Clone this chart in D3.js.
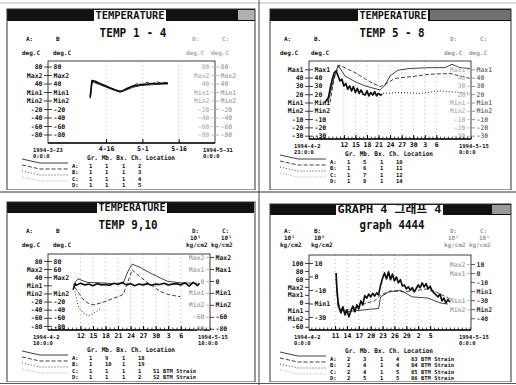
<!DOCTYPE html>
<html>
<head>
<meta charset="utf-8">
<script src="https://cdn.jsdelivr.net/npm/d3@7"></script>
<style>
  body { margin: 0; background: #fff; }
  text { font-family: "DejaVu Sans Mono", "Noto Sans CJK KR", monospace; font-weight: bold; }
</style>
</head>
<body>
<svg id="chart" width="516" height="385"></svg>
<script>
// ---- values ----
const barTitles = ["TEMPERATURE", "TEMPERATURE", "TEMPERATURE", "GRAPH 4 그래프 4"];
const subTitles = ["TEMP 1 - 4", "TEMP 5 - 8", "TEMP 9,10", "graph 4444"];
const legendHeader = "Gr. Mb. Bx. Ch. Location";

// panel 1 : TEMP 1 - 4
const tlRange = ["03-23 00", "05-31 00"];
const tlTicks = ["04-16 00", "05-01 00", "05-16 00"];
const tlTickLabels = ["4-16", "5-1", "5-16"];
const tlEnds = ["1994-3-23", "0:0:0", "1994-5-31", "0:0:0"];
const tlYRange = [-100, 93];
const tlYTicks = [80, 60, 40, 20, 0, -20, -40, -60, -80];
const tlYLabels = ["80", "Max2", "40", "Min1", "Min2", "-20", "-40", "-60", "-80"];
const tlHeads = ["A:", "B", "", "", "deg.C", "deg.C", "D:", "C:", "", "", "deg.C", "deg.C"];
const tl1 = [["04-09 10", 7], ["04-09 20", 30], ["04-10 04", 47], ["04-11 12", 45], ["04-13 12", 40], ["04-15 12", 35],
  ["04-17 14", 30], ["04-19 16", 25], ["04-21 18", 21], ["04-23 00", 23], ["04-24 14", 28], ["04-27 02", 34],
  ["04-30 00", 37], ["05-02 00", 38], ["05-04 02", 39], ["05-06 00", 40], ["05-08 07", 40], ["05-10 00", 41], ["05-11 14", 41]];
const tl2 = [["04-09 12", 5], ["04-10 06", 44], ["04-13 12", 37], ["04-17 14", 28], ["04-21 18", 20], ["04-24 14", 25],
  ["04-27 02", 31], ["04-30 00", 35], ["05-04 02", 37], ["05-08 07", 38], ["05-11 14", 39]];
const tl3 = [["04-09 12", 10], ["04-10 06", 45], ["04-13 12", 38], ["04-17 14", 29], ["04-21 18", 22], ["04-24 14", 27],
  ["04-27 02", 35], ["04-29 00", 40], ["05-01 00", 38], ["05-03 00", 43], ["05-05 00", 40], ["05-07 00", 44],
  ["05-09 00", 41], ["05-11 14", 43]];
const tlLegend = [["A:", "1", "1", "1", "2", ""], ["B:", "1", "1", "1", "3", ""], ["C:", "1", "1", "1", "4", ""], ["D:", "1", "1", "1", "5", ""]];

// panel 2 : TEMP 5 - 8
const trRange = ["04-02 23", "05-15 00"];
const trTicks = ["04-12 00", "04-15 00", "04-18 00", "04-21 00", "04-24 00", "04-27 00", "04-30 00", "05-03 00", "05-06 00"];
const trTickLabels = ["12", "15", "18", "21", "24", "27", "30", "3", "6"];
const trEnds = ["1994-4-2", "23:0:0", "1994-5-15", "0:0:0"];
const trYRange = [-34, 60];
const trYTicks = [50, 40, 30, 20, 10, 0, -10, -20, -30];
const trYLabels = ["Max1", "40", "30", "20", "Min1", "Min2", "-10", "-20", "-30"];
const trHeads = ["A:", "B.", "", "", "deg.C", "deg.C", "D:", "C:", "", "", "deg.C", "deg.C"];
const tr1 = [["04-07 03", 10], ["04-08 00", 16], ["04-08 12", 28], ["04-09 00", 38], ["04-09 12", 46], ["04-10 00", 48],
  ["04-10 12", 42], ["04-11 00", 36], ["04-11 12", 38], ["04-12 00", 30], ["04-12 12", 33], ["04-13 00", 26],
  ["04-13 12", 30], ["04-14 00", 24], ["04-14 12", 29], ["04-15 00", 22], ["04-15 12", 27], ["04-16 00", 21],
  ["04-16 12", 25], ["04-17 00", 20], ["04-17 12", 19], ["04-18 00", 24], ["04-18 12", 18], ["04-19 00", 22],
  ["04-19 12", 19], ["04-20 00", 23], ["04-20 12", 18], ["04-21 00", 21], ["04-21 12", 19], ["04-22 00", 20]];
const tr2 = [["04-07 22", 10], ["04-09 04", 35], ["04-10 12", 55], ["04-12 07", 42], ["04-14 22", 35], ["04-17 12", 30],
  ["04-21 10", 25], ["04-22 17", 31], ["04-24 00", 42], ["04-26 02", 49], ["04-29 04", 51], ["05-04 09", 52],
  ["05-08 06", 52], ["05-10 02", 56], ["05-12 03", 52], ["05-14 18", 51]];
const tr3 = [["04-08 10", 10], ["04-09 12", 40], ["04-10 20", 55], ["04-14 22", 46], ["04-18 19", 35], ["04-21 10", 29],
  ["04-22 17", 32], ["04-25 06", 39], ["04-29 04", 41], ["05-04 09", 44], ["05-09 13", 45], ["05-12 03", 42], ["05-14 18", 39]];
const tr4 = [["04-22 04", 21], ["04-26 14", 22], ["05-01 18", 21], ["05-06 23", 24], ["05-12 03", 22], ["05-14 18", 21]];
const trLegend = [["A:", "1", "5", "1", "10", ""], ["B:", "1", "6", "1", "11", ""], ["C:", "1", "7", "1", "12", ""], ["D:", "1", "8", "1", "14", ""]];

// panel 3 : TEMP 9,10
const blRange = ["04-04 06", "05-13 00"];
const blTicks = ["04-12 00", "04-15 00", "04-18 00", "04-21 00", "04-24 00", "04-27 00", "04-30 00", "05-03 00", "05-06 00"];
const blTickLabels = ["12", "15", "18", "21", "24", "27", "30", "3", "6"];
const blEnds = ["1994-4-2", "10:0:0", "1994-5-15", "10:0:0"];
const blYRange = [-90, 97];
const blYTicks = [80, 60, 40, 20, 0, -20, -40, -60, -80];
const blYLabelsA = ["80", "Max2", "40", "Min1", "Min2", "-20", "-40", "-60", "-80"];
const blYLabelsB = ["80", "60", "Max2", "", "Min2", "-20", "-40", "-60", "-80"];
const blRRange = [-82, 45];
const blRTicks = [40, 20, 0, -20, -40, -60, -80];
const blRLabels = ["Max2", "Max1", "0", "Min1", "Min2", "-60", "-80"];
const blHeads = ["A:", "B", "", "", "deg.C", "deg.C", "D:", "C:", "10¹", "10¹", "kg/cm2", "kg/cm2"];
const bl1 = [["04-10 06", 9], ["04-10 18", 24], ["04-11 00", 20], ["04-12 00", 25], ["04-13 00", 21], ["04-14 00", 23],
  ["04-15 00", 19], ["04-16 00", 24], ["04-17 00", 21], ["04-18 00", 22], ["04-19 00", 20], ["04-20 00", 25],
  ["04-21 00", 22], ["04-22 00", 27], ["04-23 00", 21], ["04-24 00", 24], ["04-25 00", 19], ["04-26 00", 23],
  ["04-27 00", 21], ["04-28 00", 24], ["04-29 00", 20], ["04-30 00", 23], ["05-01 00", 22], ["05-02 00", 25],
  ["05-03 00", 21], ["05-04 00", 23], ["05-05 00", 24], ["05-06 00", 21], ["05-07 00", 26], ["05-08 00", 18],
  ["05-09 00", 27], ["05-10 00", 19], ["05-10 12", 25]];
const bl2 = [["04-10 06", 20], ["04-11 10", 36], ["04-12 15", 31], ["04-13 20", 27], ["04-16 17", 26], ["04-19 20", 24],
  ["04-22 06", 26], ["04-23 10", 55], ["04-24 09", 72], ["04-26 08", 64], ["04-28 17", 50], ["05-01 03", 38],
  ["05-02 19", 30], ["05-05 22", 26], ["05-09 23", 25]];
const bl3 = [["04-10 17", 15], ["04-12 15", -15], ["04-13 20", -24], ["04-15 01", -28], ["04-16 17", -24], ["04-18 10", -18],
  ["04-19 20", -12], ["04-21 12", -6], ["04-22 06", -2], ["04-23 10", 30], ["04-24 09", 58], ["04-26 08", 40],
  ["04-28 17", 22], ["05-01 03", 5], ["05-02 19", -2], ["05-04 06", -5], ["05-05 22", -8]];
const bl4 = [["04-10 17", 5], ["04-11 10", -30], ["04-12 15", -48], ["04-13 20", -55], ["04-15 01", -50], ["04-16 17", -38]];
const blLegend = [["A:", "1", "9", "1", "18", ""], ["B:", "1", "10", "1", "19", ""], ["C:", "1", "1", "1", "1", "S1 BTM Strain"], ["D:", "1", "1", "1", "2", "S2 BTM Strain"]];

// panel 4 : graph 4444
const brRange = ["04-04 10", "05-15 08"];
const brTicks = ["04-11 00", "04-14 00", "04-17 00", "04-20 00", "04-23 00", "04-26 00", "04-29 00", "05-02 00", "05-05 00"];
const brTickLabels = ["11", "14", "17", "20", "23", "26", "29", "2", "5"];
const brEnds = ["1994-4-2", "0:0:0", "1994-5-15", "0:0:0"];
const brYRange = [-68, 120];
const brYTicks = [100, 80, 60, 40, 20, 0, -20, -40, -60];
const brYLabels = ["100", "80", "60", "Max2", "Max1", "0", "Min1", "Min2", "-60"];
const brBRange = [-39.6, 15.9];
const brBTicks = [10, 0, -10, -20, -30];
const brBLabels = ["10", "0", "-10", "Min1", "-30"];
const brRRange = [-63, 20];
const brRTicks = [10, 0, -10, -20, -30, -40, -50];
const brRLabels = ["10", "0", "-10", "Min1", "-30", "Min2", "-40"];
const brDTicks = [10, 0, -30, -40];
const brDLabels = ["Max2", "Max1", "Min1", "Min2"];
const brHeads = ["A:", "B:", "10¹", "10¹", "kg/cm2", "kg/cm2", "D:", "C:", "10¹", "10¹", "kg/cm2", "kg/cm2"];
const br1 = [["04-11 06", 75], ["04-11 12", 30], ["04-11 18", 5], ["04-12 00", -12], ["04-12 12", -25], ["04-13 00", -10],
  ["04-13 12", -30], ["04-14 00", -18], ["04-14 12", -35], ["04-15 00", -20], ["04-15 12", -8], ["04-16 00", -22],
  ["04-16 12", -5], ["04-17 00", -15], ["04-17 12", 5], ["04-18 00", -5], ["04-18 12", 18], ["04-19 00", 12],
  ["04-19 12", 22], ["04-20 00", 15], ["04-20 12", 24], ["04-21 00", 17], ["04-21 12", 25], ["04-22 00", 20],
  ["04-22 12", 45], ["04-23 00", 62], ["04-23 12", 75], ["04-24 00", 60], ["04-24 12", 78], ["04-25 00", 58],
  ["04-25 12", 72], ["04-26 00", 55], ["04-26 12", 65], ["04-27 00", 50], ["04-27 12", 58], ["04-28 00", 42],
  ["04-28 12", 45], ["04-29 00", 35], ["04-29 12", 40], ["04-30 00", 32], ["04-30 12", 38], ["05-01 00", 28],
  ["05-01 12", 36], ["05-02 00", 45], ["05-02 12", 38], ["05-03 00", 50], ["05-03 12", 40], ["05-04 00", 48],
  ["05-04 12", 35], ["05-05 00", 42], ["05-05 12", 30], ["05-06 00", 25], ["05-06 12", 20], ["05-07 00", 15],
  ["05-07 12", 22], ["05-08 00", 5], ["05-08 12", 12], ["05-09 00", 0], ["05-09 12", 8], ["05-10 00", 2]];
const br2 = [["04-11 06", 60], ["04-11 18", -10], ["04-12 12", -18], ["04-14 00", -22], ["04-16 00", -20], ["04-18 00", -18],
  ["04-20 00", -16], ["04-22 00", -14], ["04-22 12", 15], ["04-24 12", 27], ["04-27 12", 32], ["04-30 12", 15],
  ["05-04 12", 12], ["05-07 12", 0], ["05-09 12", -3]];
const br3 = [["04-11 12", 0], ["04-13 00", -20], ["04-15 00", -15], ["04-17 00", -8], ["04-19 00", 0], ["04-21 00", 5],
  ["04-22 12", 20], ["04-25 00", 30], ["04-28 00", 28], ["05-01 00", 30], ["05-04 00", 35], ["05-06 00", 30],
  ["05-08 00", 20], ["05-10 00", 10]];
const brLegend = [["A:", "2", "3", "1", "4", "83 BTM Strain"], ["B:", "2", "4", "1", "4", "84 BTM Strain"],
  ["C:", "2", "4", "1", "5", "85 BTM Strain"], ["D:", "2", "5", "1", "5", "86 BTM Strain"]];

// ---- drawing ----
const parseT = d3.timeParse("%Y-%m-%d %H");
const T = s => parseT("1994-" + s);
const FONT = '"DejaVu Sans Mono", "Noto Sans CJK KR", monospace';
const INK = "#111";

const lineStyles = [
  { w: 1.7, dash: null },
  { w: 0.8, dash: null },
  { w: 0.8, dash: "4,2" },
  { w: 0.9, dash: "1,2" }
];

const panels = [
  { ox: 0, oy: 0, border: [7, 9, 255, 190], bar: [7, 9, 255, 21], box: [94, 166], shade: [238, 255, "#b0b0b0"],
    title: barTitles[0], sub: subTitles[0], subX: 133, subW: 67, plot: [48, 61, 215, 143],
    range: tlRange, ticks: tlTicks, tickLabels: tlTickLabels, ends: tlEnds, minor: false,
    yRange: tlYRange, heads: tlHeads, headRight: "#aaa",
    cols: [
      { side: "outL", domain: tlYRange, vals: tlYTicks, labels: tlYLabels, color: INK },
      { side: "inL", domain: tlYRange, vals: tlYTicks, labels: tlYLabels, color: INK },
      { side: "inR", domain: tlYRange, vals: tlYTicks, labels: tlYLabels, color: "#bbb" },
      { side: "outR", domain: tlYRange, vals: tlYTicks, labels: tlYLabels, color: "#aaa" }],
    series: [tl1, tl2, tl3], legend: tlLegend, legendY: 160 },
  { ox: 258, oy: 0, border: [12, 9, 253, 190], bar: [12, 9, 253, 21], box: [100, 170], shade: [172, 253, "#707070"],
    title: barTitles[1], sub: subTitles[1], subX: 134, subW: 65, plot: [51, 61, 213, 139],
    range: trRange, ticks: trTicks, tickLabels: trTickLabels, ends: trEnds, minor: true,
    yRange: trYRange, heads: trHeads, headRight: "#999",
    cols: [
      { side: "outL", domain: trYRange, vals: trYTicks, labels: trYLabels, color: INK },
      { side: "inL", domain: trYRange, vals: trYTicks, labels: trYLabels, color: INK },
      { side: "inR", domain: trYRange, vals: trYTicks, labels: trYLabels, color: "#bbb" },
      { side: "outR", domain: trYRange, vals: trYTicks, labels: trYLabels, color: "#777" }],
    series: [tr1, tr2, tr3, tr4], legend: trLegend, legendY: 156 },
  { ox: 0, oy: 192, border: [7, 10, 255, 190], bar: [7, 10, 254, 21], box: [97, 167], shade: null,
    title: barTitles[2], sub: subTitles[2], subX: 128, subW: 59, plot: [48, 62, 210, 138],
    range: blRange, ticks: blTicks, tickLabels: blTickLabels, ends: blEnds, minor: true,
    yRange: blYRange, heads: blHeads, headRight: "#222",
    cols: [
      { side: "outL", domain: blYRange, vals: blYTicks, labels: blYLabelsA, color: INK },
      { side: "inL", domain: blYRange, vals: blYTicks, labels: blYLabelsB, color: INK },
      { side: "inR", domain: blRRange, vals: blRTicks, labels: blRLabels, color: "#aaa" },
      { side: "outR", domain: blRRange, vals: blRTicks, labels: blRLabels, color: INK }],
    series: [bl1, bl2, bl3, bl4], legend: blLegend, legendY: 160 },
  { ox: 258, oy: 192, border: [12, 12, 253, 190], bar: [12, 12, 253, 23], box: [78, 185], shade: [234, 253, "#999"],
    title: barTitles[3], sub: subTitles[3], subX: 134, subW: 65, plot: [51, 63, 213, 138],
    range: brRange, ticks: brTicks, tickLabels: brTickLabels, ends: brEnds, minor: true,
    yRange: brYRange, heads: brHeads, headRight: "#999",
    cols: [
      { side: "outL", domain: brYRange, vals: brYTicks, labels: brYLabels, color: INK },
      { side: "inL", domain: brBRange, vals: brBTicks, labels: brBLabels, color: INK },
      { side: "inR", domain: brRRange, vals: brDTicks, labels: brDLabels, color: "#aaa" },
      { side: "outR", domain: brRRange, vals: brRTicks, labels: brRLabels, color: "#333" }],
    series: [br1, br2, br3], legend: brLegend, legendY: 161 }
];

const svg = d3.select("#chart");

// frame lines of the scanned sheet
svg.append("line").attr("x1", 0).attr("x2", 516).attr("y1", 192).attr("y2", 192).attr("stroke", "#333").attr("stroke-width", 1.2);
svg.append("line").attr("x1", 259).attr("x2", 259).attr("y1", 0).attr("y2", 385).attr("stroke", "#444");
svg.append("line").attr("x1", 0).attr("x2", 516).attr("y1", 3).attr("y2", 3).attr("stroke", "#888").attr("stroke-width", 0.6);
svg.append("line").attr("x1", 0).attr("x2", 516).attr("y1", 383.5).attr("y2", 383.5).attr("stroke", "#555");

function txt(g, s, x, y, size, o = {}) {
  const t = g.append("text").attr("x", x).attr("y", y).attr("font-size", size)
    .attr("fill", o.fill || INK).text(s);
  if (o.anchor) t.attr("text-anchor", o.anchor);
  if (o.len) t.attr("textLength", o.len).attr("lengthAdjust", "spacingAndGlyphs");
  return t;
}

function yColumn(g, p, col) {
  const [pl, pt, pr, pb] = p.plot;
  const s = d3.scaleLinear().domain(col.domain).range([pb, pt]);
  const leftFacing = col.side === "outL" || col.side === "inR";
  const ax = (leftFacing ? d3.axisLeft(s) : d3.axisRight(s))
    .tickValues(col.vals).tickFormat((d, i) => col.labels[i]).tickSize(4).tickPadding(1.5);
  const xPos = col.side.endsWith("L") ? pl : pr;
  g.append("g").attr("transform", `translate(${xPos},0)`).call(ax)
    .call(a => a.select(".domain").remove())
    .call(a => a.attr("font-family", FONT).attr("font-size", 6.5))
    .call(a => a.selectAll("text").attr("fill", col.color))
    .call(a => a.selectAll("line").attr("stroke", col.color).attr("stroke-width", 0.8));
}

function drawPanel(p, k) {
  const root = svg.append("g").attr("transform", `translate(${p.ox},${p.oy})`);
  const [bx0, by0, bx1, by1] = p.border;
  root.append("clipPath").attr("id", "panel" + k).append("rect")
    .attr("x", bx0 - 1).attr("y", by0 - 1).attr("width", bx1 - bx0 + 2).attr("height", by1 - by0 + 1);
  const g = root.append("g").attr("clip-path", `url(#panel${k})`);

  // title bar
  g.append("rect").attr("x", p.bar[0]).attr("y", p.bar[1]).attr("width", p.bar[2] - p.bar[0]).attr("height", p.bar[3] - p.bar[1]).attr("fill", INK);
  if (p.shade) g.append("rect").attr("x", p.shade[0]).attr("y", p.bar[1] + 1).attr("width", p.shade[1] - p.shade[0]).attr("height", p.bar[3] - p.bar[1] - 2).attr("fill", p.shade[2]);
  g.append("rect").attr("x", p.box[0]).attr("y", p.bar[1] + 1).attr("width", p.box[1] - p.box[0]).attr("height", p.bar[3] - p.bar[1] - 1).attr("fill", "#fff");
  txt(g, p.title, (p.box[0] + p.box[1]) / 2, p.bar[3] - 2, 11, { anchor: "middle", len: p.box[1] - p.box[0] - 3 });
  txt(g, p.sub, p.subX, 37, 12, { anchor: "middle", len: p.subW });

  // column headings
  const h = p.heads;
  [[h[0], 26, 41], [h[1], 56, 41], [h[2], 26, 48], [h[3], 56, 48], [h[4], 22, 55], [h[5], 53, 55]]
    .forEach(([s, x, y]) => txt(g, s, x, y, 6));
  [[h[6], 192, 41], [h[7], 222, 41], [h[8], 190, 48], [h[9], 221, 48], [h[10], 186, 55], [h[11], 211, 55]]
    .forEach(([s, x, y]) => txt(g, s, x, y, 6, { fill: p.headRight }));

  // scales
  const [pl, pt, pr, pb] = p.plot;
  const x = d3.scaleTime().domain(p.range.map(T)).range([pl, pr]);
  const y = d3.scaleLinear().domain(p.yRange).range([pb, pt]);

  // dotted grid at labelled dates
  g.append("g").selectAll("line").data(p.ticks.map(T)).join("line")
    .attr("x1", d => x(d)).attr("x2", d => x(d)).attr("y1", pt).attr("y2", pb)
    .attr("stroke", "#999").attr("stroke-width", 0.7).attr("stroke-dasharray", "1,3");

  // series
  g.append("clipPath").attr("id", "plot" + k).append("rect").attr("x", pl).attr("y", pt).attr("width", pr - pl).attr("height", pb - pt);
  const line = d3.line().x(d => x(T(d[0]))).y(d => y(d[1]));
  const lines = g.append("g").attr("clip-path", `url(#plot${k})`);
  p.series.forEach((s, i) => {
    lines.append("path").attr("d", line(s)).attr("fill", "none").attr("stroke", INK)
      .attr("stroke-width", lineStyles[i].w).attr("stroke-dasharray", lineStyles[i].dash)
      .attr("stroke-linejoin", "round");
  });

  // plot frame
  g.append("rect").attr("x", pl).attr("y", pt).attr("width", pr - pl).attr("height", pb - pt)
    .attr("fill", "none").attr("stroke", INK).attr("stroke-width", 0.8);
  g.append("line").attr("x1", pl).attr("x2", pr).attr("y1", pb).attr("y2", pb).attr("stroke", INK).attr("stroke-width", 1.6);

  // y label columns
  p.cols.forEach(c => yColumn(g, p, c));

  // x axis
  if (p.minor) {
    g.append("g").attr("transform", `translate(0,${pb})`)
      .call(d3.axisBottom(x).ticks(d3.timeDay.every(1)).tickFormat("").tickSize(-2.5))
      .call(a => a.select(".domain").remove())
      .call(a => a.selectAll("line").attr("stroke-width", 0.7));
  }
  g.append("g").attr("transform", `translate(0,${pb})`)
    .call(d3.axisBottom(x).tickValues(p.ticks.map(T)).tickFormat((d, i) => p.tickLabels[i]).tickSize(-4).tickPadding(3))
    .call(a => a.select(".domain").remove())
    .call(a => a.attr("font-family", FONT).attr("font-size", 6.5));
  txt(g, p.ends[0], pl - 15, pb + 8.5, 5.5);
  txt(g, p.ends[1], pl - 15, pb + 15, 5.5);
  txt(g, p.ends[2], pr - 12, pb + 8.5, 5.5);
  txt(g, p.ends[3], pr - 12, pb + 15, 5.5);

  // legend block
  const ly = p.legendY;
  p.legend.forEach((row, i) => {
    const y0 = ly - 1 + 6 * i;
    g.append("path").attr("d", d3.line()([[22, y0], [40, y0 + 4], [68, y0 + 4]]))
      .attr("fill", "none").attr("stroke", i === 3 ? "#bbb" : INK).attr("stroke-width", 0.8)
      .attr("stroke-dasharray", [null, "4,2", "1,2", "2,1,1,1"][i]);
    [72, 89, 105, 122, 138, 153].forEach((cx, j) => txt(g, row[j], cx, ly + 7.5 + 6.5 * i, 5.5));
  });
  txt(g, legendHeader, 87, ly, 6.5, { len: 88 });

  // panel border
  g.append("rect").attr("x", bx0).attr("y", by0).attr("width", bx1 - bx0).attr("height", by1 - by0)
    .attr("fill", "none").attr("stroke", "#333").attr("stroke-width", 1);
}

panels.forEach(drawPanel);
</script>
</body>
</html>
